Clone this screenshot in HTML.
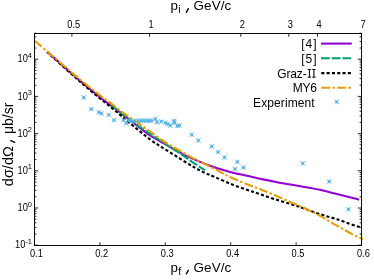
<!DOCTYPE html>
<html><head><meta charset="utf-8"><title>plot</title>
<style>
html,body{margin:0;padding:0;background:#fff;}
body{width:374px;height:280px;overflow:hidden;}
svg{display:block;font-family:"Liberation Sans",sans-serif;}
</style></head><body>
<svg width="374" height="280" viewBox="0 0 374 280">
<defs><filter id="soft" x="0" y="0" width="374" height="280" filterUnits="userSpaceOnUse"><feGaussianBlur stdDeviation="0.35"/></filter></defs>
<rect width="374" height="280" fill="#fff"/>
<g filter="url(#soft)">
<rect width="374" height="280" fill="#fff"/>
<path d="M34.50 245.20h3.70M361.50 245.20h-3.70M34.50 234.00h1.90M361.50 234.00h-1.90M34.50 227.45h1.90M361.50 227.45h-1.90M34.50 222.80h1.90M361.50 222.80h-1.90M34.50 219.20h1.90M361.50 219.20h-1.90M34.50 216.25h1.90M361.50 216.25h-1.90M34.50 213.76h1.90M361.50 213.76h-1.90M34.50 211.61h1.90M361.50 211.61h-1.90M34.50 209.70h1.90M361.50 209.70h-1.90M34.50 208.00h3.70M361.50 208.00h-3.70M34.50 196.80h1.90M361.50 196.80h-1.90M34.50 190.25h1.90M361.50 190.25h-1.90M34.50 185.60h1.90M361.50 185.60h-1.90M34.50 182.00h1.90M361.50 182.00h-1.90M34.50 179.05h1.90M361.50 179.05h-1.90M34.50 176.56h1.90M361.50 176.56h-1.90M34.50 174.41h1.90M361.50 174.41h-1.90M34.50 172.50h1.90M361.50 172.50h-1.90M34.50 170.80h3.70M361.50 170.80h-3.70M34.50 159.60h1.90M361.50 159.60h-1.90M34.50 153.05h1.90M361.50 153.05h-1.90M34.50 148.40h1.90M361.50 148.40h-1.90M34.50 144.80h1.90M361.50 144.80h-1.90M34.50 141.85h1.90M361.50 141.85h-1.90M34.50 139.36h1.90M361.50 139.36h-1.90M34.50 137.21h1.90M361.50 137.21h-1.90M34.50 135.30h1.90M361.50 135.30h-1.90M34.50 133.60h3.70M361.50 133.60h-3.70M34.50 122.40h1.90M361.50 122.40h-1.90M34.50 115.85h1.90M361.50 115.85h-1.90M34.50 111.20h1.90M361.50 111.20h-1.90M34.50 107.60h1.90M361.50 107.60h-1.90M34.50 104.65h1.90M361.50 104.65h-1.90M34.50 102.16h1.90M361.50 102.16h-1.90M34.50 100.01h1.90M361.50 100.01h-1.90M34.50 98.10h1.90M361.50 98.10h-1.90M34.50 96.40h3.70M361.50 96.40h-3.70M34.50 85.20h1.90M361.50 85.20h-1.90M34.50 78.65h1.90M361.50 78.65h-1.90M34.50 74.00h1.90M361.50 74.00h-1.90M34.50 70.40h1.90M361.50 70.40h-1.90M34.50 67.45h1.90M361.50 67.45h-1.90M34.50 64.96h1.90M361.50 64.96h-1.90M34.50 62.81h1.90M361.50 62.81h-1.90M34.50 60.90h1.90M361.50 60.90h-1.90M34.50 59.20h3.70M361.50 59.20h-3.70M34.50 48.00h1.90M361.50 48.00h-1.90M34.50 41.45h1.90M361.50 41.45h-1.90M34.50 36.81h1.90M361.50 36.81h-1.90M34.50 33.20h1.90M361.50 33.20h-1.90M34.50 245.50v-3.2M99.90 245.50v-3.2M165.30 245.50v-3.2M230.70 245.50v-3.2M296.10 245.50v-3.2M361.50 245.50v-3.2M71.90 33.50v3.2M149.50 33.50v3.2M240.80 33.50v3.2M288.80 33.50v3.2M317.50 33.50v3.2M361.50 33.50v3.2" stroke="#000" stroke-width="0.85" fill="none"/>
<g fill="none" stroke-width="2.1" stroke-linecap="butt" stroke-linejoin="round">
<path d="M47.00 51.60 C48.83 53.20 54.17 57.80 58.00 61.20 C61.83 64.60 65.50 68.03 70.00 72.00 C74.50 75.97 80.00 80.78 85.00 85.00 C90.00 89.22 95.83 93.97 100.00 97.30 C104.17 100.63 107.00 102.75 110.00 105.00 C113.00 107.25 115.50 108.90 118.00 110.80 C120.50 112.70 121.33 113.53 125.00 116.40 C128.67 119.27 135.83 124.83 140.00 128.00 C144.17 131.17 145.83 132.70 150.00 135.40 C154.17 138.10 160.83 141.80 165.00 144.20 C169.17 146.60 171.67 147.98 175.00 149.80 C178.33 151.62 181.33 153.30 185.00 155.10 C188.67 156.90 192.83 158.83 197.00 160.60 C201.17 162.37 206.17 164.30 210.00 165.70 C213.83 167.10 216.50 167.92 220.00 169.00 C223.50 170.08 226.50 171.07 231.00 172.20 C235.50 173.33 241.67 174.60 247.00 175.80 C252.33 177.00 258.17 178.37 263.00 179.40 C267.83 180.43 271.17 181.10 276.00 182.00 C280.83 182.90 286.67 183.88 292.00 184.80 C297.33 185.72 303.17 186.62 308.00 187.50 C312.83 188.38 316.17 189.00 321.00 190.10 C325.83 191.20 331.67 192.77 337.00 194.10 C342.33 195.43 349.30 197.17 353.00 198.10 C356.70 199.03 358.17 199.43 359.20 199.70" stroke="#9400D3"/>
<path d="M111.00 105.00 C113.33 106.83 119.50 111.87 125.00 116.00 C130.50 120.13 137.33 125.20 144.00 129.80 C150.67 134.40 158.83 139.57 165.00 143.60 C171.17 147.63 175.67 150.40 181.00 154.00 C186.33 157.60 193.00 162.50 197.00 165.20 C201.00 167.90 203.67 169.37 205.00 170.20" stroke="#009E73" stroke-dasharray="8.8 1.9"/>
<path d="M47.00 51.90 C50.83 55.37 63.67 67.03 70.00 72.70 C76.33 78.37 80.00 81.60 85.00 85.90 C90.00 90.20 95.00 94.40 100.00 98.50 C105.00 102.60 110.17 106.52 115.00 110.50 C119.83 114.48 123.17 117.60 129.00 122.40 C134.83 127.20 144.00 134.83 150.00 139.30 C156.00 143.77 160.00 145.98 165.00 149.20 C170.00 152.42 175.17 155.60 180.00 158.60 C184.83 161.60 189.83 164.82 194.00 167.20 C198.17 169.58 201.50 171.25 205.00 172.90 C208.50 174.55 210.67 175.25 215.00 177.10 C219.33 178.95 225.67 181.88 231.00 184.00 C236.33 186.12 242.17 188.12 247.00 189.80 C251.83 191.48 255.17 192.47 260.00 194.10 C264.83 195.73 270.67 197.88 276.00 199.60 C281.33 201.32 287.17 202.85 292.00 204.40 C296.83 205.95 300.17 207.22 305.00 208.90 C309.83 210.58 315.67 212.77 321.00 214.50 C326.33 216.23 331.67 217.57 337.00 219.30 C342.33 221.03 349.00 223.53 353.00 224.90 C357.00 226.27 359.67 227.07 361.00 227.50" stroke="#000" stroke-dasharray="3.1 2.2"/>
<path d="M34.90 41.00 C37.75 43.45 45.98 50.53 52.00 55.70 C58.02 60.87 65.67 67.48 71.00 72.00 C76.33 76.52 79.17 78.92 84.00 82.80 C88.83 86.68 95.87 92.15 100.00 95.30 C104.13 98.45 104.63 98.55 108.80 101.70 C112.97 104.85 118.67 109.62 125.00 114.20 C131.33 118.78 140.13 124.57 146.80 129.20 C153.47 133.83 159.30 138.30 165.00 142.00 C170.70 145.70 175.67 148.37 181.00 151.40 C186.33 154.43 191.67 157.42 197.00 160.20 C202.33 162.98 208.83 165.98 213.00 168.10 C217.17 170.22 219.00 171.33 222.00 172.90 C225.00 174.47 226.83 175.62 231.00 177.50 C235.17 179.38 241.92 182.17 247.00 184.20 C252.08 186.23 256.67 187.77 261.50 189.70 C266.33 191.63 270.92 193.62 276.00 195.80 C281.08 197.98 286.92 200.58 292.00 202.80 C297.08 205.02 301.67 206.83 306.50 209.10 C311.33 211.37 315.92 213.63 321.00 216.40 C326.08 219.17 331.67 222.67 337.00 225.70 C342.33 228.73 348.70 232.35 353.00 234.60 C357.30 236.85 361.17 238.43 362.80 239.20" stroke="#E69F00" stroke-dasharray="9 2.2 2.5 2.2"/>
<path d="M321 43.6H351.8" stroke="#9400D3"/>
<path d="M321 58.3H351.8" stroke="#009E73" stroke-dasharray="8.8 1.9"/>
<path d="M321.3 73.1H351.4" stroke="#000" stroke-dasharray="3.1 2.2"/>
<path d="M321.3 87.7H351.2" stroke="#E69F00" stroke-dasharray="9 2.2 2.5 2.2"/>
</g>
<g stroke="#56B4E9" stroke-width="0.9" fill="none">
<rect x="82.60" y="96.30" width="2.40" height="2.40" fill="#56B4E9" fill-opacity="0.85" stroke="none"/><path d="M81.50 95.20L86.10 99.80M81.50 99.80L86.10 95.20"/><path stroke-width="0.6" d="M81.90 97.50H85.70M83.80 95.60V99.40"/>
<rect x="90.00" y="107.90" width="2.40" height="2.40" fill="#56B4E9" fill-opacity="0.85" stroke="none"/><path d="M88.90 106.80L93.50 111.40M88.90 111.40L93.50 106.80"/><path stroke-width="0.6" d="M89.30 109.10H93.10M91.20 107.20V111.00"/>
<rect x="97.70" y="111.00" width="2.40" height="2.40" fill="#56B4E9" fill-opacity="0.85" stroke="none"/><path d="M96.60 109.90L101.20 114.50M96.60 114.50L101.20 109.90"/><path stroke-width="0.6" d="M97.00 112.20H100.80M98.90 110.30V114.10"/>
<rect x="100.20" y="112.30" width="2.40" height="2.40" fill="#56B4E9" fill-opacity="0.85" stroke="none"/><path d="M99.10 111.20L103.70 115.80M99.10 115.80L103.70 111.20"/><path stroke-width="0.6" d="M99.50 113.50H103.30M101.40 111.60V115.40"/>
<rect x="107.60" y="113.70" width="2.40" height="2.40" fill="#56B4E9" fill-opacity="0.85" stroke="none"/><path d="M106.50 112.60L111.10 117.20M106.50 117.20L111.10 112.60"/><path stroke-width="0.6" d="M106.90 114.90H110.70M108.80 113.00V116.80"/>
<rect x="112.80" y="118.90" width="2.40" height="2.40" fill="#56B4E9" fill-opacity="0.85" stroke="none"/><path d="M111.70 117.80L116.30 122.40M111.70 122.40L116.30 117.80"/><path stroke-width="0.6" d="M112.10 120.10H115.90M114.00 118.20V122.00"/>
<rect x="122.20" y="118.90" width="2.40" height="2.40" fill="#56B4E9" fill-opacity="0.85" stroke="none"/><path d="M121.10 117.80L125.70 122.40M121.10 122.40L125.70 117.80"/><path stroke-width="0.6" d="M121.50 120.10H125.30M123.40 118.20V122.00"/>
<rect x="125.00" y="122.10" width="2.40" height="2.40" fill="#56B4E9" fill-opacity="0.85" stroke="none"/><path d="M123.90 121.00L128.50 125.60M123.90 125.60L128.50 121.00"/><path stroke-width="0.6" d="M124.30 123.30H128.10M126.20 121.40V125.20"/>
<rect x="128.10" y="119.50" width="2.40" height="2.40" fill="#56B4E9" fill-opacity="0.85" stroke="none"/><path d="M127.00 118.40L131.60 123.00M127.00 123.00L131.60 118.40"/><path stroke-width="0.6" d="M127.40 120.70H131.20M129.30 118.80V122.60"/>
<rect x="130.30" y="120.00" width="2.40" height="2.40" fill="#56B4E9" fill-opacity="0.85" stroke="none"/><path d="M129.20 118.90L133.80 123.50M129.20 123.50L133.80 118.90"/><path stroke-width="0.6" d="M129.60 121.20H133.40M131.50 119.30V123.10"/>
<rect x="133.50" y="119.50" width="2.40" height="2.40" fill="#56B4E9" fill-opacity="0.85" stroke="none"/><path d="M132.40 118.40L137.00 123.00M132.40 123.00L137.00 118.40"/><path stroke-width="0.6" d="M132.80 120.70H136.60M134.70 118.80V122.60"/>
<rect x="137.20" y="119.50" width="2.40" height="2.40" fill="#56B4E9" fill-opacity="0.85" stroke="none"/><path d="M136.10 118.40L140.70 123.00M136.10 123.00L140.70 118.40"/><path stroke-width="0.6" d="M136.50 120.70H140.30M138.40 118.80V122.60"/>
<rect x="139.90" y="119.50" width="2.40" height="2.40" fill="#56B4E9" fill-opacity="0.85" stroke="none"/><path d="M138.80 118.40L143.40 123.00M138.80 123.00L143.40 118.40"/><path stroke-width="0.6" d="M139.20 120.70H143.00M141.10 118.80V122.60"/>
<rect x="142.60" y="119.50" width="2.40" height="2.40" fill="#56B4E9" fill-opacity="0.85" stroke="none"/><path d="M141.50 118.40L146.10 123.00M141.50 123.00L146.10 118.40"/><path stroke-width="0.6" d="M141.90 120.70H145.70M143.80 118.80V122.60"/>
<rect x="145.30" y="119.50" width="2.40" height="2.40" fill="#56B4E9" fill-opacity="0.85" stroke="none"/><path d="M144.20 118.40L148.80 123.00M144.20 123.00L148.80 118.40"/><path stroke-width="0.6" d="M144.60 120.70H148.40M146.50 118.80V122.60"/>
<rect x="147.90" y="119.50" width="2.40" height="2.40" fill="#56B4E9" fill-opacity="0.85" stroke="none"/><path d="M146.80 118.40L151.40 123.00M146.80 123.00L151.40 118.40"/><path stroke-width="0.6" d="M147.20 120.70H151.00M149.10 118.80V122.60"/>
<rect x="150.40" y="119.50" width="2.40" height="2.40" fill="#56B4E9" fill-opacity="0.85" stroke="none"/><path d="M149.30 118.40L153.90 123.00M149.30 123.00L153.90 118.40"/><path stroke-width="0.6" d="M149.70 120.70H153.50M151.60 118.80V122.60"/>
<rect x="154.10" y="117.90" width="2.40" height="2.40" fill="#56B4E9" fill-opacity="0.85" stroke="none"/><path d="M153.00 116.80L157.60 121.40M153.00 121.40L157.60 116.80"/><path stroke-width="0.6" d="M153.40 119.10H157.20M155.30 117.20V121.00"/>
<rect x="155.80" y="121.10" width="2.40" height="2.40" fill="#56B4E9" fill-opacity="0.85" stroke="none"/><path d="M154.70 120.00L159.30 124.60M154.70 124.60L159.30 120.00"/><path stroke-width="0.6" d="M155.10 122.30H158.90M157.00 120.40V124.20"/>
<rect x="160.00" y="120.40" width="2.40" height="2.40" fill="#56B4E9" fill-opacity="0.85" stroke="none"/><path d="M158.90 119.30L163.50 123.90M158.90 123.90L163.50 119.30"/><path stroke-width="0.6" d="M159.30 121.60H163.10M161.20 119.70V123.50"/>
<rect x="164.30" y="121.60" width="2.40" height="2.40" fill="#56B4E9" fill-opacity="0.85" stroke="none"/><path d="M163.20 120.50L167.80 125.10M163.20 125.10L167.80 120.50"/><path stroke-width="0.6" d="M163.60 122.80H167.40M165.50 120.90V124.70"/>
<rect x="166.40" y="122.70" width="2.40" height="2.40" fill="#56B4E9" fill-opacity="0.85" stroke="none"/><path d="M165.30 121.60L169.90 126.20M165.30 126.20L169.90 121.60"/><path stroke-width="0.6" d="M165.70 123.90H169.50M167.60 122.00V125.80"/>
<rect x="169.10" y="124.30" width="2.40" height="2.40" fill="#56B4E9" fill-opacity="0.85" stroke="none"/><path d="M168.00 123.20L172.60 127.80M168.00 127.80L172.60 123.20"/><path stroke-width="0.6" d="M168.40 125.50H172.20M170.30 123.60V127.40"/>
<rect x="172.90" y="119.50" width="2.40" height="2.40" fill="#56B4E9" fill-opacity="0.85" stroke="none"/><path d="M171.80 118.40L176.40 123.00M171.80 123.00L176.40 118.40"/><path stroke-width="0.6" d="M172.20 120.70H176.00M174.10 118.80V122.60"/>
<rect x="173.20" y="121.60" width="2.40" height="2.40" fill="#56B4E9" fill-opacity="0.85" stroke="none"/><path d="M172.10 120.50L176.70 125.10M172.10 125.10L176.70 120.50"/><path stroke-width="0.6" d="M172.50 122.80H176.30M174.40 120.90V124.70"/>
<rect x="176.10" y="124.80" width="2.40" height="2.40" fill="#56B4E9" fill-opacity="0.85" stroke="none"/><path d="M175.00 123.70L179.60 128.30M175.00 128.30L179.60 123.70"/><path stroke-width="0.6" d="M175.40 126.00H179.20M177.30 124.10V127.90"/>
<rect x="178.20" y="124.30" width="2.40" height="2.40" fill="#56B4E9" fill-opacity="0.85" stroke="none"/><path d="M177.10 123.20L181.70 127.80M177.10 127.80L181.70 123.20"/><path stroke-width="0.6" d="M177.50 125.50H181.30M179.40 123.60V127.40"/>
<rect x="190.60" y="133.60" width="2.40" height="2.40" fill="#56B4E9" fill-opacity="0.85" stroke="none"/><path d="M189.50 132.50L194.10 137.10M189.50 137.10L194.10 132.50"/><path stroke-width="0.6" d="M189.90 134.80H193.70M191.80 132.90V136.70"/>
<rect x="197.10" y="139.30" width="2.40" height="2.40" fill="#56B4E9" fill-opacity="0.85" stroke="none"/><path d="M196.00 138.20L200.60 142.80M196.00 142.80L200.60 138.20"/><path stroke-width="0.6" d="M196.40 140.50H200.20M198.30 138.60V142.40"/>
<rect x="210.50" y="145.10" width="2.40" height="2.40" fill="#56B4E9" fill-opacity="0.85" stroke="none"/><path d="M209.40 144.00L214.00 148.60M209.40 148.60L214.00 144.00"/><path stroke-width="0.6" d="M209.80 146.30H213.60M211.70 144.40V148.20"/>
<rect x="216.90" y="150.80" width="2.40" height="2.40" fill="#56B4E9" fill-opacity="0.85" stroke="none"/><path d="M215.80 149.70L220.40 154.30M215.80 154.30L220.40 149.70"/><path stroke-width="0.6" d="M216.20 152.00H220.00M218.10 150.10V153.90"/>
<rect x="223.30" y="156.20" width="2.40" height="2.40" fill="#56B4E9" fill-opacity="0.85" stroke="none"/><path d="M222.20 155.10L226.80 159.70M222.20 159.70L226.80 155.10"/><path stroke-width="0.6" d="M222.60 157.40H226.40M224.50 155.50V159.30"/>
<rect x="236.20" y="160.70" width="2.40" height="2.40" fill="#56B4E9" fill-opacity="0.85" stroke="none"/><path d="M235.10 159.60L239.70 164.20M235.10 164.20L239.70 159.60"/><path stroke-width="0.6" d="M235.50 161.90H239.30M237.40 160.00V163.80"/>
<rect x="233.80" y="167.80" width="2.40" height="2.40" fill="#56B4E9" fill-opacity="0.85" stroke="none"/><path d="M232.70 166.70L237.30 171.30M232.70 171.30L237.30 166.70"/><path stroke-width="0.6" d="M233.10 169.00H236.90M235.00 167.10V170.90"/>
<rect x="242.30" y="166.40" width="2.40" height="2.40" fill="#56B4E9" fill-opacity="0.85" stroke="none"/><path d="M241.20 165.30L245.80 169.90M241.20 169.90L245.80 165.30"/><path stroke-width="0.6" d="M241.60 167.60H245.40M243.50 165.70V169.50"/>
<rect x="301.60" y="162.10" width="2.40" height="2.40" fill="#56B4E9" fill-opacity="0.85" stroke="none"/><path d="M300.50 161.00L305.10 165.60M300.50 165.60L305.10 161.00"/><path stroke-width="0.6" d="M300.90 163.30H304.70M302.80 161.40V165.20"/>
<rect x="328.00" y="180.30" width="2.40" height="2.40" fill="#56B4E9" fill-opacity="0.85" stroke="none"/><path d="M326.90 179.20L331.50 183.80M326.90 183.80L331.50 179.20"/><path stroke-width="0.6" d="M327.30 181.50H331.10M329.20 179.60V183.40"/>
<rect x="347.20" y="208.10" width="2.40" height="2.40" fill="#56B4E9" fill-opacity="0.85" stroke="none"/><path d="M346.10 207.00L350.70 211.60M346.10 211.60L350.70 207.00"/><path stroke-width="0.6" d="M346.50 209.30H350.30M348.40 207.40V211.20"/>
<rect x="335.50" y="100.70" width="2.40" height="2.40" fill="#56B4E9" fill-opacity="0.85" stroke="none"/><path d="M334.40 99.60L339.00 104.20M334.40 104.20L339.00 99.60"/><path stroke-width="0.6" d="M334.80 101.90H338.60M336.70 100.00V103.80"/>
</g>
<rect x="34.50" y="33.50" width="327.00" height="212.00" fill="none" stroke="#000" stroke-width="0.95"/>
<g fill="#000">
<text transform="translate(36.40 257.20) scale(0.930 1)" font-size="10px" text-anchor="middle">0.1</text>
<text transform="translate(101.80 257.20) scale(0.930 1)" font-size="10px" text-anchor="middle">0.2</text>
<text transform="translate(167.20 257.20) scale(0.930 1)" font-size="10px" text-anchor="middle">0.3</text>
<text transform="translate(232.60 257.20) scale(0.930 1)" font-size="10px" text-anchor="middle">0.4</text>
<text transform="translate(298.00 257.20) scale(0.930 1)" font-size="10px" text-anchor="middle">0.5</text>
<text transform="translate(363.40 257.20) scale(0.930 1)" font-size="10px" text-anchor="middle">0.6</text>
<text transform="translate(73.80 28.30) scale(0.930 1)" font-size="10px" text-anchor="middle">0.5</text>
<text transform="translate(151.10 28.30) scale(0.930 1)" font-size="10px" text-anchor="middle">1</text>
<text transform="translate(242.40 28.30) scale(0.930 1)" font-size="10px" text-anchor="middle">2</text>
<text transform="translate(290.40 28.30) scale(0.930 1)" font-size="10px" text-anchor="middle">3</text>
<text transform="translate(319.10 28.30) scale(0.930 1)" font-size="10px" text-anchor="middle">4</text>
<text transform="translate(363.10 28.30) scale(0.930 1)" font-size="10px" text-anchor="middle">7</text>
<text transform="translate(32.00 248.30) scale(0.930 1)" font-size="10px" text-anchor="end">10<tspan font-size="8px" dy="-4.5">-1</tspan></text>
<text transform="translate(32.00 211.10) scale(0.930 1)" font-size="10px" text-anchor="end">10<tspan font-size="8px" dy="-4.5">0</tspan></text>
<text transform="translate(32.00 173.90) scale(0.930 1)" font-size="10px" text-anchor="end">10<tspan font-size="8px" dy="-4.5">1</tspan></text>
<text transform="translate(32.00 136.70) scale(0.930 1)" font-size="10px" text-anchor="end">10<tspan font-size="8px" dy="-4.5">2</tspan></text>
<text transform="translate(32.00 99.50) scale(0.930 1)" font-size="10px" text-anchor="end">10<tspan font-size="8px" dy="-4.5">3</tspan></text>
<text transform="translate(32.00 62.30) scale(0.930 1)" font-size="10px" text-anchor="end">10<tspan font-size="8px" dy="-4.5">4</tspan></text>
<text transform="translate(317.40 48.40) scale(1.000 1)" font-size="12px" text-anchor="end" letter-spacing="0.9">[4]</text>
<text transform="translate(317.40 63.00) scale(1.000 1)" font-size="12px" text-anchor="end" letter-spacing="0.9">[5]</text>
<text transform="translate(316.60 92.20) scale(1.000 1)" font-size="12px" text-anchor="end" letter-spacing="-0.3">MY6</text>
<text transform="translate(314.80 106.90) scale(1.000 1)" font-size="12px" text-anchor="end" letter-spacing="0.1">Experiment</text>
<text transform="translate(277.20 77.60) scale(1.000 1)" font-size="12px" text-anchor="start" letter-spacing="-0.12">Graz-</text>
<path d="M309.40 69.0V77.6" stroke="#000" stroke-width="1.05" fill="none"/><path d="M307.65 69.45H311.15M307.65 77.15H311.15" stroke="#000" stroke-width="0.9" fill="none"/>
<path d="M313.90 69.0V77.6" stroke="#000" stroke-width="1.05" fill="none"/><path d="M312.15 69.45H315.65M312.15 77.15H315.65" stroke="#000" stroke-width="0.9" fill="none"/>
<text transform="translate(170.60 10.40) scale(1.000 1)" font-size="13.4px" text-anchor="start">p</text>
<text transform="translate(178.20 13.10) scale(1.000 1)" font-size="10.6px" text-anchor="start">i</text>
<path d="M188.3 8.70L186.3 12.30" stroke="#000" stroke-width="1.35" stroke-linecap="round" fill="none"/>
<text transform="translate(193.60 10.40) scale(1.000 1)" font-size="13.4px" text-anchor="start" letter-spacing="0.1">GeV/c</text>
<text transform="translate(170.60 272.00) scale(1.000 1)" font-size="13.4px" text-anchor="start">p</text>
<text transform="translate(178.20 274.70) scale(1.000 1)" font-size="10.6px" text-anchor="start">f</text>
<path d="M188.3 270.30L186.3 273.90" stroke="#000" stroke-width="1.35" stroke-linecap="round" fill="none"/>
<text transform="translate(193.60 272.00) scale(1.000 1)" font-size="13.4px" text-anchor="start" letter-spacing="0.1">GeV/c</text>
<path d="M10.7 140.6L14.7 142.4" stroke="#000" stroke-width="1.35" stroke-linecap="round" fill="none"/>
<text transform="translate(12.7 186.20) rotate(-90) scale(1.040 1)" font-size="14px">dσ/dΩ</text>
<text transform="translate(12.7 134.10) rotate(-90) scale(1.000 1)" font-size="14px">μb/sr</text>
</g>
</g></svg></body></html>
